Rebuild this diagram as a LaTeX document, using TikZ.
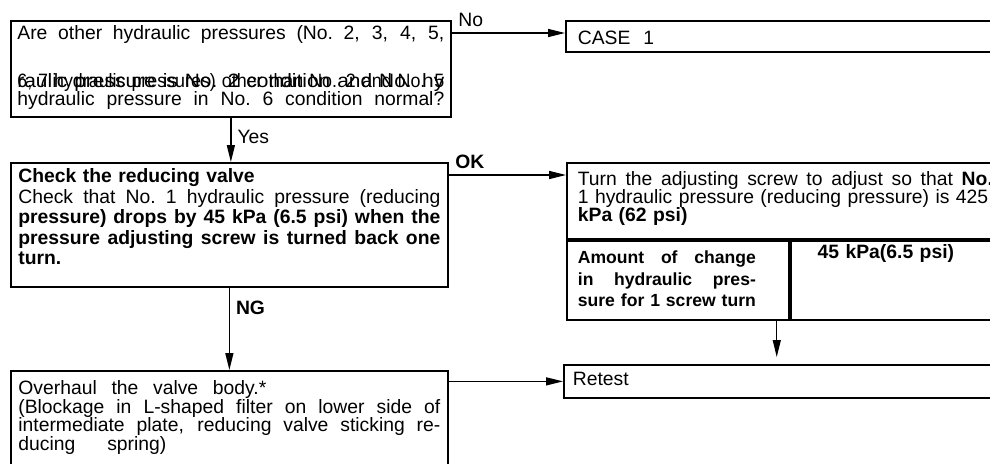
\documentclass[tikz,border=0pt]{standalone}
\usepackage{fontspec}
\setmainfont{Liberation Sans}
\usepackage{graphicx}
\usetikzlibrary{arrows.meta, positioning}

% full-width line, struts, and the doubled (overprinted) line
\newcommand{\spread}[2][\linewidth]{\makebox[#1][s]{\spaceskip=\fontdimen2\font plus 1fil\xspaceskip=\spaceskip\relax #2}}
\newcommand{\upstrut}[1]{\rule{0pt}{#1}}
\newcommand{\downstrut}[1]{\rule[-#1]{0pt}{#1}}
\newcommand{\garbled}[2]{\leavevmode\rlap{\resizebox{\linewidth}{\height}{#1}}\resizebox{\linewidth}{\height}{#2}}

\begin{document}
\begin{tikzpicture}[
    flowbox/.style={draw, line width=1pt, anchor=north west, align=left, inner ysep=0pt},
    textfont/.style 2 args={font={\fontsize{#1}{#2}\selectfont\lineskiplimit=-\maxdimen}},
    tag/.style={font=\fontsize{11}{13}\selectfont, inner sep=0.12cm},
    arrow/.style={-{Triangle[length=3.4mm, width=1.6mm]}, line width=0.75pt}
]
\useasboundingbox (0,0) rectangle (19.8,-9.26);
\clip (0,0) rectangle (19.8,-9.26);

% left column
\node[flowbox, textfont={11}{0.36cm}, text width=8.54cm, inner xsep=0.13cm] (question) at (0.2,-0.4)
  {\spread{\upstrut{0.38cm}Are other hydraulic pressures (No. 2, 3, 4, 5,}\\[0.6cm]
   \garbled{6, 7 hydraulic pressures) other than No. 2 and No. 5}{raulic pressure is No. 2 condition and No. hy}\\
   \spread{hydraulic pressure in No. 6 condition normal?\downstrut{0.22cm}}};

\node[flowbox, textfont={11}{0.41cm}, text width=8.44cm, inner xsep=0.15cm] (check) at (0.2,-3.24)
  {\textbf{\upstrut{0.4cm}Check the reducing valve}\\
   \spread{Check that No. 1 hydraulic pressure (reducing}\\
   \spread{\textbf{pressure) drops by 45 kPa (6.5 psi) when the}}\\
   \spread{\textbf{pressure adjusting screw is turned back one}}\\
   \textbf{turn.}\downstrut{0.44cm}};

\node[flowbox, textfont={11}{0.37cm}, text width=8.44cm, inner xsep=0.15cm] (overhaul) at (0.2,-7.4)
  {\spread[4.96cm]{\upstrut{0.48cm}Overhaul the valve body.*}\\
   \spread{(Blockage in L-shaped filter on lower side of}\\
   \spread{intermediate plate, reducing valve sticking re-}\\
   \spread[2.96cm]{ducing spring)}\downstrut{0.6cm}};

% right column
\node[flowbox, textfont={11}{13pt}, text width=9.5cm, inner xsep=0.24cm] (case) at (11.3,-0.4)
  {\upstrut{0.48cm}CASE\ \ 1\downstrut{0.14cm}};

\node[flowbox, textfont={11}{0.36cm}, text width=9.6cm, inner xsep=0.22cm] (turn) at (11.32,-3.24)
  {\spread[8.3cm]{\upstrut{0.46cm}Turn the adjusting screw to adjust so that \textbf{No.}}\\
   1 hydraulic pressure (reducing pressure) is 425\\
   \textbf{kPa (62 psi)}\downstrut{0.34cm}};
\node[flowbox, textfont={10}{0.43cm}, text width=4.0cm, inner xsep=0.22cm] (amount) at (turn.south west)
  {\bfseries\spread[3.56cm]{\upstrut{0.46cm}Amount of change}\\
   \spread[3.56cm]{in hydraulic pres-}\\
   \spread[3.56cm]{sure for 1 screw turn}\downstrut{0.26cm}};
\node[flowbox, textfont={11}{13pt}, text width=5cm, inner xsep=0.54cm] (value) at (amount.north east)
  {\textbf{\upstrut{0.36cm}45 kPa(6.5 psi)}\downstrut{1.22cm}};

\node[flowbox, textfont={11}{13pt}, text width=9.5cm, inner xsep=0.18cm] (retest) at (11.26,-7.28)
  {\upstrut{0.42cm}Retest\downstrut{0.24cm}};

% connectors
\draw[arrow] ([yshift=-0.26cm]question.north east) -- node[tag, anchor=south west, pos=0] {No} ([yshift=-0.26cm]case.north west);
\draw[arrow] (question.south) -- node[tag, anchor=west, pos=0.43] {Yes} (question.south |- check.north);
\draw[arrow] ([yshift=-0.26cm]check.north east) -- node[tag, anchor=south west, pos=0] {\textbf{OK}} ([yshift=-0.26cm]turn.north west);
\draw[arrow] (check.south) -- node[tag, anchor=west, pos=0.24] {\textbf{NG}} (check.south |- overhaul.north);
\draw[arrow] (overhaul.north east |- retest.west) -- (retest.west);
\draw[arrow, shorten >=0.14cm] ([xshift=-0.26cm]amount.south east) -- ([xshift=-0.26cm]amount.south east |- retest.north);
\end{tikzpicture}
\end{document}
